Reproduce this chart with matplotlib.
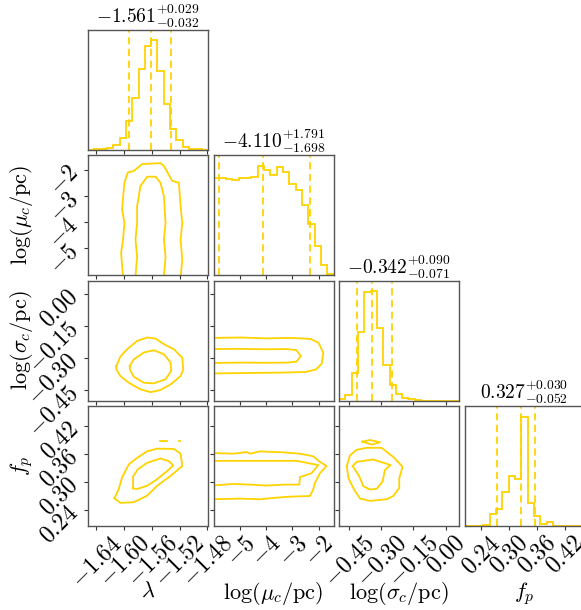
import numpy as np
import matplotlib
matplotlib.use("Agg")
import matplotlib.pyplot as plt
from matplotlib.ticker import FixedLocator, FuncFormatter

plt.rcParams['mathtext.fontset'] = 'cm'
plt.rcParams['font.family'] = ['DejaVu Serif']

# ---------------- data ----------------
labels = [r'$\lambda$', r'$\log(\mu_c/\mathrm{pc})$', r'$\log(\sigma_c/\mathrm{pc})$', r'$f_p$']
titles = [r'$-1.561^{+0.029}_{-0.032}$', r'$-4.110^{+1.791}_{-1.698}$',
          r'$-0.342^{+0.090}_{-0.071}$', r'$0.327^{+0.030}_{-0.052}$']
ranges = [(-1.652, -1.479), (-6.02, -1.43), (-0.497, 0.063), (0.205, 0.463)]
ticks = [[-1.64, -1.60, -1.56, -1.52, -1.48], [-5, -4, -3, -2],
         [-0.45, -0.30, -0.15, 0.00], [0.24, 0.30, 0.36, 0.42]]
tick_decimals = [2, 0, 2, 2]
quantiles = [(-1.593, -1.561, -1.532), (-5.808, -4.110, -2.319),
             (-0.413, -0.342, -0.252), (0.275, 0.327, 0.357)]

# histogram counts (19 bins spanning each range)
hist_lambda = [0, 1, 1, 4, 13, 35, 84, 154, 238, 306, 324, 232, 135, 60, 27, 7, 2, 1, 0]
hist_mu = [288, 286, 285, 282, 287, 287, 290, 323, 311, 296, 320, 304, 269, 251, 208, 151, 86, 31, 3]
hist_sigma = [3, 15, 80, 203, 320, 323, 215, 105, 45, 19, 7, 3, 1, 0, 0, 0, 0, 0, 0]
hist_fp = [0, 0, 0, 4, 37, 52, 101, 148, 139, 325, 69, 31, 5, 12, 1, 0, 0, 0, 0]
hists = [hist_lambda, hist_mu, hist_sigma, hist_fp]

# contour outlines (data units)
lm_outer_lam = [-1.6015, -1.6043, -1.6015, -1.5995, -1.6029, -1.5995, -1.5947, -1.586, -1.574, -1.5475,
                -1.5426, -1.5306, -1.521, -1.5185, -1.5161, -1.5185, -1.5161, -1.5185]
lm_outer_mu = [-6.1, -5.18, -4.67, -4.03, -3.51, -2.49, -2.10, -2.04, -1.78, -1.74,
               -1.85, -2.42, -2.49, -3.38, -4.03, -4.67, -5.44, -6.1]
lm_inner_lam = [-1.5836, -1.5812, -1.5836, -1.5812, -1.5812, -1.5764, -1.5667, -1.5547, -1.5475,
                -1.5426, -1.5402, -1.5426, -1.5402, -1.5426]
lm_inner_mu = [-6.1, -5.31, -4.67, -4.03, -3.38, -2.62, -2.26, -2.26, -2.49,
               -3.00, -4.03, -4.67, -5.31, -6.1]

ls_outer_lam = [-1.6111, -1.6053, -1.5957, -1.5812, -1.5667, -1.5547, -1.5426, -1.5282, -1.5161, -1.5147,
                -1.5185, -1.533, -1.5475, -1.5619, -1.5764, -1.5932, -1.6053, -1.6111, -1.6111]
ls_outer_sig = [-0.336, -0.292, -0.258, -0.219, -0.203, -0.208, -0.234, -0.258, -0.297, -0.352,
                -0.383, -0.422, -0.448, -0.458, -0.445, -0.414, -0.383, -0.352, -0.336]
ls_inner_lam = [-1.5918, -1.586, -1.5716, -1.5571, -1.5426, -1.533, -1.532, -1.5402, -1.5571, -1.5716,
                -1.586, -1.5918, -1.5918]
ls_inner_sig = [-0.336, -0.305, -0.273, -0.2625, -0.281, -0.320, -0.359, -0.398, -0.417, -0.414,
                -0.386, -0.352, -0.336]

ms_outer_mu = [-6.1, -5.0, -4.0, -3.0, -2.3, -2.0, -1.82, -1.88, -2.1, -2.5, -3.5, -5.0, -6.1]
ms_outer_sig = [-0.205, -0.203, -0.207, -0.205, -0.210, -0.228, -0.275, -0.325, -0.352, -0.364, -0.367, -0.369, -0.371]
ms_inner_mu = [-6.1, -5.0, -4.0, -3.2, -2.85, -2.68, -2.85, -3.2, -4.0, -5.0, -6.1]
ms_inner_sig = [-0.257, -0.256, -0.258, -0.257, -0.262, -0.290, -0.316, -0.320, -0.321, -0.320, -0.322]

lf_outer_lam = [-1.614, -1.6077, -1.6029, -1.5932, -1.5812, -1.5667, -1.5523, -1.5282, -1.5185, -1.5161,
                -1.533, -1.5523, -1.5667, -1.586, -1.6053, -1.614]
lf_outer_fp = [0.2647, 0.2845, 0.3092, 0.3374, 0.3515, 0.3656, 0.3713, 0.3706, 0.3607, 0.3339,
               0.3127, 0.2915, 0.2703, 0.2562, 0.2548, 0.2647]
lf_inner_lam = [-1.587, -1.587, -1.5802, -1.5667, -1.5475, -1.5354, -1.5291, -1.5378, -1.5523, -1.5667,
                -1.5812, -1.587]
lf_inner_fp = [0.2859, 0.3113, 0.3268, 0.3409, 0.3501, 0.3445, 0.3353, 0.3233, 0.3056, 0.2915,
               0.2845, 0.2859]
lf_island_lam = [(-1.5484, -1.5388), (-1.5209, -1.5190)]
lf_island_fp = [0.3882, 0.3882]

mf_outer_mu = [-6.1, -5.254, -4.746, -4.619, -4.238, -3.348, -2.713, -2.205, -1.950, -1.696,
               -1.950, -2.141, -2.205, -2.332, -3.094, -3.602, -4.238, -5.0, -6.1]
mf_outer_fp = [0.3619, 0.3605, 0.364, 0.3605, 0.3654, 0.3633, 0.3605, 0.3549, 0.343, 0.3339,
               0.3185, 0.2975, 0.2835, 0.2695, 0.2681, 0.266, 0.2625, 0.2639, 0.2625]
mf_inner_mu = [-6.1, -4.619, -2.84, -2.014, -2.268, -2.713, -2.738, -3.348, -3.983, -4.619, -5.254, -6.1]
mf_inner_fp = [0.3451, 0.3451, 0.3451, 0.336, 0.3185, 0.3101, 0.294, 0.294, 0.2919, 0.294, 0.2954, 0.2919]

sf_outer_sig = [-0.4609, -0.4453, -0.4143, -0.3678, -0.298, -0.2437, -0.2003, -0.2158, -0.2158, -0.2437,
                -0.2747, -0.3523, -0.3988, -0.4267, -0.4531, -0.4609]
sf_outer_fp = [0.3339, 0.357, 0.3689, 0.3731, 0.3731, 0.3535, 0.3325, 0.308, 0.287, 0.2695,
               0.2625, 0.259, 0.2639, 0.2835, 0.308, 0.3339]
sf_inner_sig = [-0.4329, -0.4143, -0.3368, -0.2561, -0.2825, -0.2934, -0.3213, -0.3523, -0.3833, -0.4019,
                -0.4329]
sf_inner_fp = [0.3339, 0.343, 0.3479, 0.336, 0.3255, 0.301, 0.2849, 0.2835, 0.2905, 0.3115, 0.3339]
sf_island_sig = [-0.388, -0.3523, -0.3058, -0.3445, -0.388]
sf_island_fp = [0.3864, 0.3899, 0.385, 0.3801, 0.3864]

contours = {
    (1, 0): [(lm_outer_lam, lm_outer_mu), (lm_inner_lam, lm_inner_mu)],
    (2, 0): [(ls_outer_lam, ls_outer_sig), (ls_inner_lam, ls_inner_sig)],
    (2, 1): [(ms_outer_mu, ms_outer_sig), (ms_inner_mu, ms_inner_sig)],
    (3, 0): [(lf_outer_lam, lf_outer_fp), (lf_inner_lam, lf_inner_fp)]
            + [(list(seg), [f, f]) for seg, f in zip(lf_island_lam, lf_island_fp)],
    (3, 1): [(mf_outer_mu, mf_outer_fp), (mf_inner_mu, mf_inner_fp)],
    (3, 2): [(sf_outer_sig, sf_outer_fp), (sf_inner_sig, sf_inner_fp), (sf_island_sig, sf_island_fp)],
}

# ---------------- style ----------------
color = '#FFD200'
spine_color = '#555555'
W, H = 581, 610
left0, top0, step, size = 88, 29.5, 125.5, 120
tick_fs = 17
label_fs = 16
title_fs = 14

fig = plt.figure(figsize=(W / 100, H / 100), dpi=100)
K = 4


def fmt(d):
    def f(v, pos):
        s = f'{v:.{d}f}'
        return f'${s}$'
    return FuncFormatter(f)


for i in range(K):
    for j in range(i + 1):
        l = (left0 + step * j) / W
        b = 1 - (top0 + step * i + size) / H
        ax = fig.add_axes([l, b, size / W, size / H])
        for sp in ax.spines.values():
            sp.set_color(spine_color)
            sp.set_linewidth(1.0)
        ax.tick_params(direction='out', length=3, width=0.8, color='#333333',
                       labelsize=tick_fs, pad=1)
        ax.set_xlim(*ranges[j])
        ax.xaxis.set_major_locator(FixedLocator(ticks[j]))
        ax.xaxis.set_major_formatter(fmt(tick_decimals[j]))
        if i == j:
            edges = np.linspace(ranges[i][0], ranges[i][1], len(hists[i]) + 1)
            ax.stairs(hists[i], edges, color=color, lw=1.3)
            ax.set_ylim(0, 1.1 * max(hists[i]))
            ax.set_yticks([])
            for q in quantiles[i]:
                ax.axvline(q, color=color, ls='--', lw=1.3, dashes=(4, 2.5))
            ax.set_title(titles[i], fontsize=title_fs, pad=4)
        else:
            ax.set_ylim(*ranges[i])
            ax.yaxis.set_major_locator(FixedLocator(ticks[i]))
            ax.yaxis.set_major_formatter(fmt(tick_decimals[i]))
            for xs, ys in contours.get((i, j), []):
                ax.plot(xs, ys, color=color, lw=1.3)
            if j == 0:
                for t in ax.get_yticklabels():
                    t.set_rotation(45)
                ax.set_ylabel(labels[i], fontsize=label_fs)
                ax.yaxis.set_label_coords(-0.44, 0.5)
            else:
                ax.set_yticklabels([])
        if i == K - 1:
            for t in ax.get_xticklabels():
                t.set_rotation(45)
            ax.set_xlabel(labels[j], fontsize=label_fs)
            ax.xaxis.set_label_coords(0.5, -0.45)
        else:
            ax.set_xticklabels([])

fig.savefig('out.png', dpi=100)
